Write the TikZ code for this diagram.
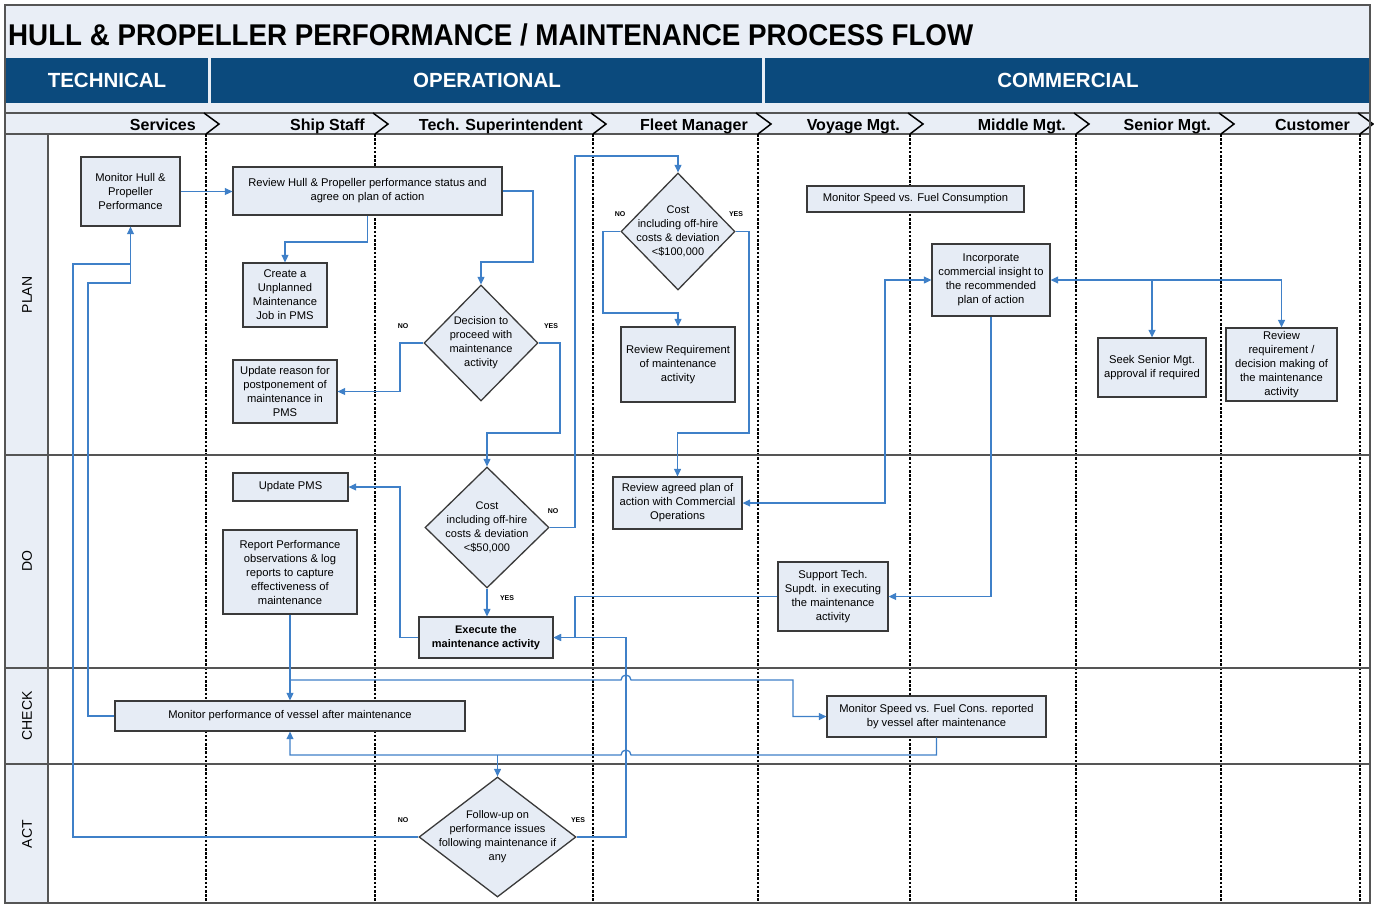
\documentclass[tikz,border=0pt]{standalone}
\usepackage{fontspec}
\setmainfont{Liberation Sans}
\usetikzlibrary{shapes.geometric,arrows.meta}
\definecolor{bandblue}{HTML}{0B4A7D}
\definecolor{lightbg}{HTML}{E9EEF6}
\definecolor{boxfill}{HTML}{E6ECF5}
\definecolor{boxline}{HTML}{3A3A3A}
\definecolor{flow}{HTML}{3F80C8}
\definecolor{rowline}{HTML}{555555}
\begin{document}
\begin{tikzpicture}[x=1pt,y=-1pt,
  box/.style={draw=boxline, fill=boxfill, line width=1.3pt, align=center,
    font=\fontsize{11.2}{14}\selectfont, inner sep=1pt},
  dia/.style={diamond, draw=boxline, fill=boxfill, line width=1.3pt, inner sep=0pt},
  dtext/.style={align=center, font=\fontsize{11}{14}\selectfont, inner sep=0pt},
  flowline/.style={draw=flow, line width=1.3pt},
  arr/.style={flowline, -{Triangle[length=7.5pt,width=7pt]}},
  darr/.style={flowline, {Triangle[length=7.5pt,width=7pt]}-{Triangle[length=7.5pt,width=7pt]}},
  yn/.style={font=\bfseries\fontsize{7}{8}\selectfont, inner sep=0pt},
  lanesep/.style={line width=2.6pt, dash pattern=on 2.6pt off 1.6pt},
  rowsep/.style={draw=rowline, line width=1.5pt},
  phase/.style={rotate=90, font=\fontsize{14}{14}\selectfont},
  lanelabel/.style={anchor=base east, font=\bfseries\fontsize{16}{16}\selectfont, inner sep=0pt},
  bandlabel/.style={anchor=base, text=white, font=\bfseries\fontsize{20.5}{20.5}\selectfont, inner sep=0pt}
]
\useasboundingbox (0,0) rectangle (1374,905);
% backgrounds
\fill[white] (0,0) rectangle (1374,905);
\fill[lightbg] (5,5) rectangle (1370,134);
\fill[bandblue] (6,58) rectangle (208,103);
\fill[bandblue] (211,58) rectangle (762,103);
\fill[bandblue] (765,58) rectangle (1370,103);
\fill[lightbg] (6,134) rectangle (48,903);
% title
\node[anchor=base west, font=\bfseries\fontsize{30}{30}\selectfont, inner sep=0pt] (title) at (8,45) {\scalebox{0.925}[1]{HULL \& PROPELLER PERFORMANCE / MAINTENANCE PROCESS FLOW}};
\node[bandlabel] (tech) at (107,87) {TECHNICAL};
\node[bandlabel] (oper) at (487,87) {OPERATIONAL};
\node[bandlabel] (comm) at (1068,87) {COMMERCIAL};
% header row
\draw[rowsep, line width=1.2pt] (6,113) -- (1370,113);
\draw[rowsep, line width=1.2pt] (6,134) -- (1370,134);
\foreach \x/\t/\n in {206/Services/l1, 375/Ship Staff/l2, 593/Tech. Superintendent/l3, 758/Fleet Manager/l4, 910/Voyage Mgt./l5, 1076/Middle Mgt./l6, 1221/Senior Mgt./l7, 1360/Customer/l8}{
  \draw[line width=1.5pt, line join=miter] (\x-2,113) -- (\x+13,124) -- (\x,134);
  \draw[lanesep] (\x,134) -- (\x,903);
  \node[lanelabel] (\n) at (\x-10,130) {\t};
}
% rows
\draw[rowsep] (5,455) -- (1370,455);
\draw[rowsep] (5,668) -- (1370,668);
\draw[rowsep] (5,764) -- (1370,764);
\draw[rowsep] (48,134) -- (48,903);
\node[phase] (pplan) at (27,295) {PLAN};
\node[phase] (pdo) at (27,561) {DO};
\node[phase] (pcheck) at (27,716) {CHECK};
\node[phase] (pact) at (27,834) {ACT};
% outer frame
\draw[rowline, line width=1.2pt] (5,5) rectangle (1370,903);

% nodes
\node[box, minimum width=99pt, minimum height=69pt] (mh) at (130.5,191.5) {Monitor Hull \&\\Propeller\\Performance};
\node[box, minimum width=269pt, minimum height=48pt] (rh) at (367.5,191) {Review Hull \& Propeller performance status and\\agree on plan of action};
\node[box, minimum width=84pt, minimum height=64pt] (cu) at (285,295) {Create a\\Unplanned\\Maintenance\\Job in PMS};
\node[box, minimum width=104pt, minimum height=63pt] (ur) at (285,391.5) {Update reason for\\postponement of\\maintenance in\\PMS};
\node[dia, minimum width=114pt, minimum height=116pt] (d1) at (481,343) {};
\node[dtext] (d1t) at (d1) {Decision to\\proceed with\\maintenance\\activity};
\node[dia, minimum width=114pt, minimum height=117pt] (d2) at (678,231.5) {};
\node[dtext] (d2t) at (d2) {Cost\\including off-hire\\costs \& deviation\\<\$100,000};
\node[box, minimum width=114pt, minimum height=75pt] (rr) at (678,364.5) {Review Requirement\\of maintenance\\activity};
\node[box, minimum width=217pt, minimum height=26pt] (ms) at (915.5,199) {Monitor Speed vs. Fuel Consumption};
\node[box, minimum width=118pt, minimum height=72pt] (ic) at (991,280) {Incorporate\\commercial insight to\\the recommended\\plan of action};
\node[box, minimum width=108pt, minimum height=59pt] (ss) at (1152,367.5) {Seek Senior Mgt.\\approval if required};
\node[box, minimum width=111pt, minimum height=73pt] (rd) at (1281.5,364.5) {Review\\requirement /\\decision making of\\the maintenance\\activity};
\node[box, minimum width=115pt, minimum height=28pt] (up) at (290.5,487) {Update PMS};
\node[box, minimum width=134pt, minimum height=84pt] (rp) at (290,572) {Report Performance\\observations \& log\\reports to capture\\effectiveness of\\maintenance};
\node[dia, minimum width=124pt, minimum height=121pt] (d3) at (487,527.5) {};
\node[dtext] (d3t) at (d3) {Cost\\including off-hire\\costs \& deviation\\<\$50,000};
\node[box, minimum width=134pt, minimum height=41pt, font=\bfseries\fontsize{11}{14}\selectfont] (ex) at (486,637.5) {Execute the\\maintenance activity};
\node[box, minimum width=129pt, minimum height=52pt] (ra) at (677.5,503) {Review agreed plan of\\action with Commercial\\Operations};
\node[box, minimum width=110pt, minimum height=69pt] (st) at (833,596.5) {Support Tech.\\Supdt. in executing\\the maintenance\\activity};
\node[box, minimum width=350pt, minimum height=30pt] (mp) at (290,716) {Monitor performance of vessel after maintenance};
\node[box, minimum width=219pt, minimum height=41pt] (mr) at (936.5,716.5) {Monitor Speed vs. Fuel Cons. reported\\by vessel after maintenance};
\node[dia, minimum width=157pt, minimum height=120pt] (d4) at (497.5,837) {};
\node[dtext] (d4t) at (d4) {Follow-up on\\performance issues\\following maintenance if\\any};

% yes/no labels
\node[yn] (n1) at (403,326) {NO};
\node[yn] (y1) at (551,326) {YES};
\node[yn] (n2) at (620,214) {NO};
\node[yn] (y2) at (736,214) {YES};
\node[yn] (n3) at (553,511) {NO};
\node[yn] (y3) at (507,598) {YES};
\node[yn] (n4) at (403,820) {NO};
\node[yn] (y4) at (578,820) {YES};

% connectors
\draw[arr] (mh.east) -- (mh.east -| rh.west);
\draw[arr] (rh.south) -- (rh.south |- 0,242) -| (cu.north);
\draw[arr] (rh.east) -- (533,191) -- (533,262) -| (d1.north);
\draw[arr] (d1.west) -- (400,343) |- (ur.east);
\draw[arr] (d1.east) -- (560,343) -- (560,433) -| (d3.north);
\draw[arr] (d3.east) -- (575,527.5) -- (575,156) -| (d2.north);
\draw[arr] (d2.west) -- (603,231.5) -- (603,313) -| (rr.north);
\draw[arr] (d2.east) -- (749,231.5) -- (749,433) -| (ra.north);
\draw[arr] (d3.south) -- (d3.south |- ex.north);
\draw[arr] (ex.west) -- (400,637.5) |- (up.east);
\draw[arr] (ic.south) |- (st.east);
\draw[darr] (ra.east) -- (885,503) |- (ic.west);
\draw[darr] (ic.east) -| (rd.north);
\draw[arr] (ss.north |- ic.east) -- (ss.north);
\draw[arr] (st.west) -- (575,596.5) |- (ex.east);
\draw[arr] (d4.east) -- (626,837) |- (ex.east);
\draw[arr] (rp.south) -- (mp.north);
\coordinate (rpbr) at (290,680);
\draw[arr] (rpbr) -- (621,680) arc[start angle=180, end angle=0, radius=5pt] -- (793,680) |- (mr.west);
\draw[arr] (mr.south) -- (mr.south |- 0,755) -- (631,755) arc[start angle=0, end angle=180, radius=5pt] -- (290,755) -- (mp.south);
\draw[arr] (d4.north |- 0,755) -- (d4.north);
\draw[arr] (mp.west) -- (88,716) -- (88,283) -| (mh.south);
\draw[flowline] (d4.west) -- (73,837) -- (73,264) -- (mh.south |- 0,264);
\end{tikzpicture}
\end{document}
